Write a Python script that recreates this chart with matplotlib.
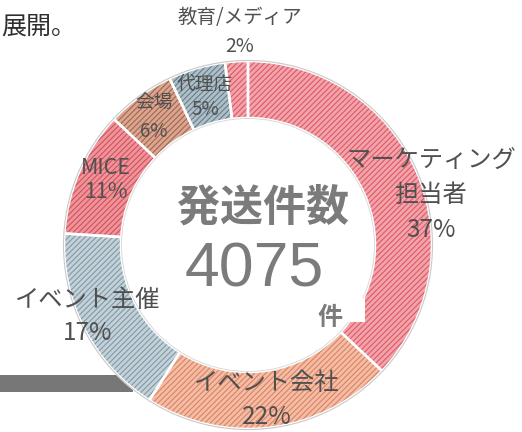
import numpy as np
import matplotlib.pyplot as plt
from matplotlib.patches import Wedge, Rectangle, Circle

plt.rcParams['font.family'] = ['Noto Sans CJK JP', 'DejaVu Sans']

# data
categories = ['マーケティング\n担当者', 'イベント会社', 'イベント主催', 'MICE', '会場', '代理店', '教育/メディア']
shares = [37, 22, 17, 11, 6, 5, 2]
total_sent = 4075

base_colors = ['#f3a3aa', '#f4bda6', '#c3d1d8', '#ee949b', '#d9a691', '#aebfc7', '#f3a3aa']
hatch_colors = ['#dc5a67', '#dc8262', '#8299a7', '#d3505c', '#a6644c', '#667e8c', '#dc5a67']

# label layout (pixel coords, y from top)
label_pos = [(431, 195), (267, 400), (88, 316), (106, 180), (154, 117), (205, 97), (240, 32)]
label_size = [17.5, 17.5, 17.5, 15.5, 13.5, 13.5, 14]
label_gap = [1.45, 1.4, 1.35, 1.15, 1.55, 1.3, 1.45]

W, H = 522, 432
cx, cy = 248, 245
R, ring = 184, 57

fig = plt.figure(figsize=(W / 100, H / 100), dpi=100)
ax = fig.add_axes([0, 0, 1, 1])

def Y(y):
    return H - y

# grey bar and text from the page behind the chart
ax.add_patch(Rectangle((0, Y(392)), 133, 17, color='#777777', lw=0, zorder=0))
ax.text(1, Y(27), '展開。', ha='left', va='center', fontsize=18, color='#2f2f2f')

wedges, _ = ax.pie(shares, startangle=90, counterclock=False, radius=R,
                   center=(cx, Y(cy)), colors=base_colors,
                   wedgeprops=dict(width=ring, edgecolor='none', linewidth=0))

plt.rcParams['hatch.linewidth'] = 0.8
for w, hc in zip(wedges, hatch_colors):
    w.set_zorder(1)
    hw = Wedge(w.center, w.r, w.theta1, w.theta2, width=w.width,
               facecolor='none', edgecolor=hc, hatch='//////', lw=0, zorder=2)
    ax.add_patch(hw)
    ow = Wedge(w.center, w.r, w.theta1, w.theta2, width=w.width,
               facecolor='none', edgecolor='white', lw=1.8, zorder=3)
    ax.add_patch(ow)

ax.add_patch(Circle((cx, Y(cy)), R + 0.5, fill=False, edgecolor='#c9c9c9', lw=0.8, zorder=3))
ax.add_patch(Circle((cx, Y(cy)), R - ring - 0.5, fill=False, edgecolor='#d5d5d5', lw=0.6, zorder=3))

for cat, s, (lx, ly), fs, gap in zip(categories, shares, label_pos, label_size, label_gap):
    ax.text(lx, Y(ly), f'{cat}\n{s}%', ha='center', va='center', fontsize=fs,
            color='#505050', linespacing=gap, zorder=5)

# centre text
ax.add_patch(Rectangle((292, Y(322)), 73, 24, color='white', lw=0, zorder=4))
ax.text(263, Y(208), '発送件数', ha='center', va='center', fontsize=31,
        fontweight='bold', color='#7b7b7b', zorder=5)
ax.text(254, Y(270), str(total_sent), ha='center', va='center', fontsize=45,
        family='Liberation Sans', color='#7b7b7b', zorder=5)
ax.text(330, Y(318), '件', ha='center', va='center', fontsize=18,
        fontweight='bold', color='#7b7b7b', zorder=5)

ax.set_xlim(0, W)
ax.set_ylim(0, H)
ax.set_aspect('auto')
ax.axis('off')

fig.savefig('out.png', dpi=100, facecolor='white')
